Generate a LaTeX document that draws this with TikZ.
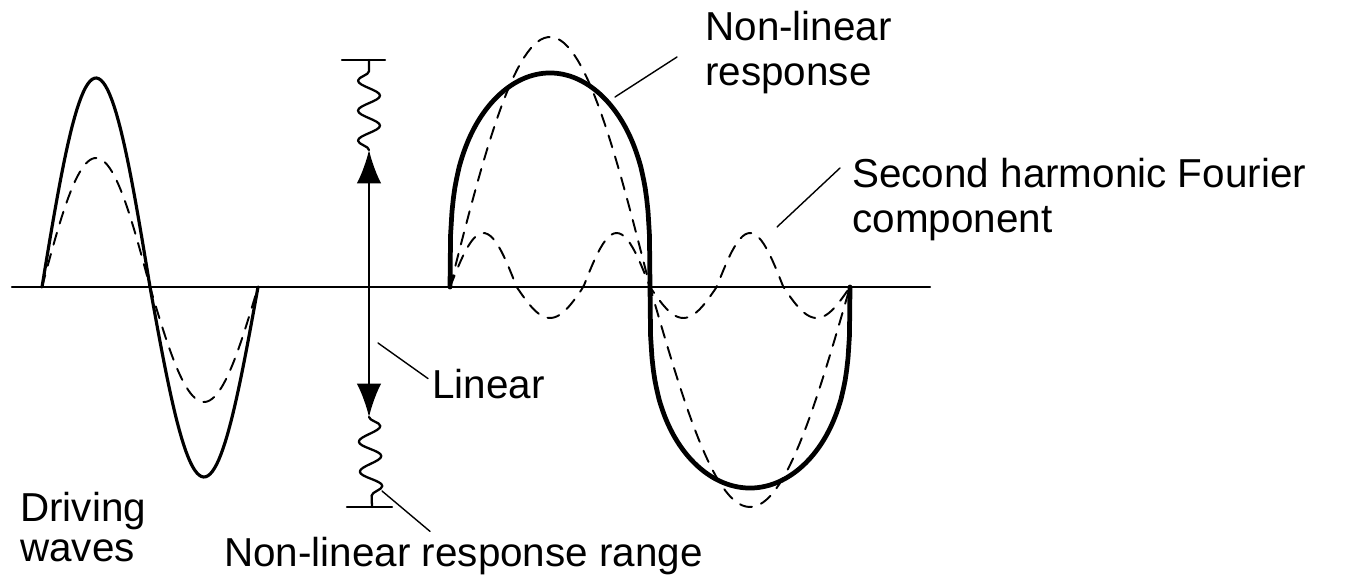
\documentclass[tikz,border=0pt]{standalone}
\usepackage{fontspec}
\setmainfont{Liberation Sans}
\usetikzlibrary{arrows.meta,calc,decorations.pathmorphing}

\begin{document}
\begin{tikzpicture}[>=Latex, x=0.02cm, y=0.02cm, line cap=round, line join=round,
    every node/.style={font=\fontsize{23}{25.5}\selectfont, inner sep=0pt, align=left},
    drivewave/.style={line width=1.8pt},
    respwave/.style={line width=2.7pt},
    dashwave/.style={line width=1.1pt, dash pattern=on 7pt off 5.5pt},
    leader/.style={line width=0.8pt},
    wiggle/.style={line width=1.3pt, decorate, decoration={snake, segment length=0.6cm, amplitude=0.22cm}}]
    \path[use as bounding box] (0,0) rectangle (1354,575);
    % axis
    \coordinate (axL) at (12,288);
    \coordinate (axR) at (930,288);
    \draw[line width=1.2pt] (axL) -- (axR);
    % driving waves
    \draw[drivewave] plot[domain=0:360, samples=100] ({42+0.6*\x},{288+199.5*sin(\x)+9.5*abs(sin(\x))});
    \draw[dashwave] plot[domain=0:360, samples=100] ({42+0.6*\x},{288+122*sin(\x)+7*abs(sin(\x))});
    % fundamental and harmonic
    \draw[dashwave] plot[domain=0:360, samples=120] ({450+\x/0.9},{288+235*sin(\x)+15*abs(sin(\x))});
    \draw[dashwave] plot[domain=0:360, samples=150] ({450+\x/0.9},{288+42.5*sin(3*\x)+11.5*abs(sin(3*\x))});
    % non-linear response
    \draw[respwave] (450,288) -- plot[domain=0.5:179.5, samples=140] ({450+\x/0.9},{288+214*sin(\x)^0.3}) -- (650,288)
        -- plot[domain=180.5:359.5, samples=140] ({450+\x/0.9},{288-201*(-sin(\x))^0.3}) -- (850,288);
    % response range
    \coordinate (rngT) at (369,425);
    \coordinate (rngB) at (369,158);
    \coordinate (capT) at (369,515);
    \coordinate (capB) at (372,68);
    \draw[<->, line width=1.4pt, >={Latex[length=19pt,width=14pt]}] (rngT) -- (rngB);
    \draw[wiggle] (rngT) -- (capT);
    \draw[wiggle] (rngB) -- (capB);
    \draw[line width=1.4pt] (capT) ++(-27,0) -- ++(43,0);
    \draw[line width=1.4pt] (capB) ++(-25,0) -- ++(45,0);
    % labels
    \node[anchor=north west] (nlr) at (705,564) {Non-linear\\response};
    \node[anchor=north west] (harm) at (852,417) {Second harmonic Fourier\\component};
    \node[anchor=base west] (lin) at (432,177) {Linear};
    \node[anchor=north west, font=\fontsize{23}{22.5}\selectfont] (drv) at (20,83) {Driving\\waves};
    \node[anchor=base west] (rng) at (224,9) {Non-linear response range};
    % leaders
    \coordinate (nlrPt) at (615,478);
    \draw[leader] (nlrPt) -- ($(nlr.north west)+(-28,-46)$);
    \coordinate (harmPt) at (777,348);
    \draw[leader] (harmPt) -- ($(harm.north west)+(-12,-10)$);
    \coordinate (linPt) at (378,232);
    \draw[leader] (linPt) -- ($(lin.west)+(-4,5)$);
    \coordinate (rngPt) at (382,84);
    \draw[leader] (rngPt) -- ($(rng.north west)+(206,5)$);
\end{tikzpicture}
\end{document}
